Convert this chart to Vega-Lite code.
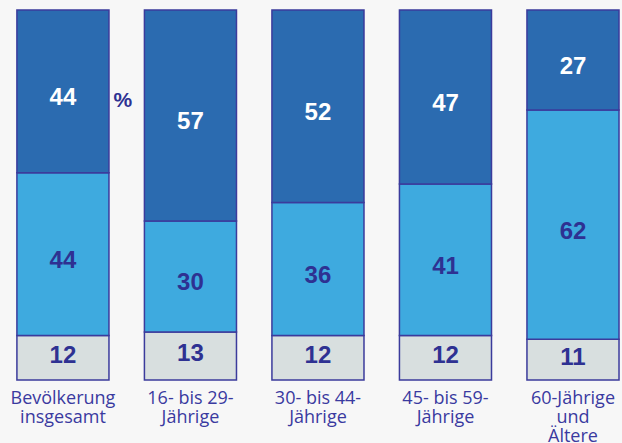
{
  "$schema": "https://vega.github.io/schema/vega-lite/v6.json",
  "autosize": "none",
  "width": 622,
  "height": 370,
  "padding": {"left": 0, "top": 10, "right": 0, "bottom": 63},
  "background": "#f7f7f7",
  "config": {"view": {"stroke": null}},
  "data": {
    "values": [
      {"group": "Bevölkerung|insgesamt", "seg": "c", "k": 1, "value": 12},
      {"group": "Bevölkerung|insgesamt", "seg": "b", "k": 2, "value": 44},
      {"group": "Bevölkerung|insgesamt", "seg": "a", "k": 3, "value": 44},
      {"group": "16- bis 29-|Jährige", "seg": "c", "k": 1, "value": 13},
      {"group": "16- bis 29-|Jährige", "seg": "b", "k": 2, "value": 30},
      {"group": "16- bis 29-|Jährige", "seg": "a", "k": 3, "value": 57},
      {"group": "30- bis 44-|Jährige", "seg": "c", "k": 1, "value": 12},
      {"group": "30- bis 44-|Jährige", "seg": "b", "k": 2, "value": 36},
      {"group": "30- bis 44-|Jährige", "seg": "a", "k": 3, "value": 52},
      {"group": "45- bis 59-|Jährige", "seg": "c", "k": 1, "value": 12},
      {"group": "45- bis 59-|Jährige", "seg": "b", "k": 2, "value": 41},
      {"group": "45- bis 59-|Jährige", "seg": "a", "k": 3, "value": 47},
      {"group": "60-Jährige|und|Ältere", "seg": "c", "k": 1, "value": 11},
      {"group": "60-Jährige|und|Ältere", "seg": "b", "k": 2, "value": 62},
      {"group": "60-Jährige|und|Ältere", "seg": "a", "k": 3, "value": 27}
    ]
  },
  "encoding": {
    "x": {
      "field": "group",
      "type": "nominal",
      "sort": null,
      "scale": {"paddingInner": 0.278, "paddingOuter": 0.078, "align": 0.85},
      "axis": {
        "title": null,
        "labelAngle": 0,
        "ticks": false,
        "domain": false,
        "labelPadding": 9,
        "labelBaseline": "top",
        "labelFont": "Open Sans",
        "labelFontSize": 18,
        "labelLineHeight": 19,
        "labelColor": "#3a3aa0",
        "labelExpr": "split(datum.value, '|')"
      }
    },
    "y": {
      "field": "value",
      "type": "quantitative",
      "stack": "zero",
      "scale": {"domain": [0, 100], "nice": false},
      "axis": null
    },
    "order": {"field": "k", "type": "quantitative"}
  },
  "layer": [
    {
      "mark": {"type": "bar", "stroke": "#3b3b9c", "strokeWidth": 1.5},
      "encoding": {
        "color": {
          "field": "seg",
          "type": "nominal",
          "scale": {"domain": ["a", "b", "c"], "range": ["#2b6bb0", "#3eaadf", "#d8dfdf"]},
          "legend": null
        }
      }
    },
    {
      "mark": {"type": "text", "font": "Liberation Sans", "fontWeight": "bold", "fontSize": 24, "baseline": "middle", "dy": 7},
      "encoding": {
        "y": {"field": "value", "type": "quantitative", "stack": "zero", "bandPosition": 0.5},
        "text": {"field": "value", "type": "quantitative"},
        "opacity": {"condition": {"test": "datum.k === 1", "value": 0}, "value": 1},
        "color": {
          "condition": {"test": "datum.k === 3", "value": "#ffffff"},
          "value": "#2e3192"
        }
      }
    },
    {
      "transform": [{"filter": "datum.k === 1"}],
      "mark": {"type": "text", "font": "Liberation Sans", "fontWeight": "bold", "fontSize": 24, "baseline": "middle", "dy": -2, "color": "#2e3192"},
      "encoding": {
        "y": {"field": "value", "type": "quantitative", "stack": "zero", "bandPosition": 0.5},
        "text": {"field": "value", "type": "quantitative"}
      }
    },
    {
      "transform": [{"filter": "datum.k === 3 && datum.group === 'Bevölkerung|insgesamt'"}],
      "mark": {"type": "text", "font": "Liberation Sans", "fontWeight": "bold", "fontSize": 21, "baseline": "middle", "dx": 60, "color": "#2e3192"},
      "encoding": {
        "y": {"datum": 75.5, "type": "quantitative"},
        "text": {"value": "%"}
      }
    }
  ]
}
